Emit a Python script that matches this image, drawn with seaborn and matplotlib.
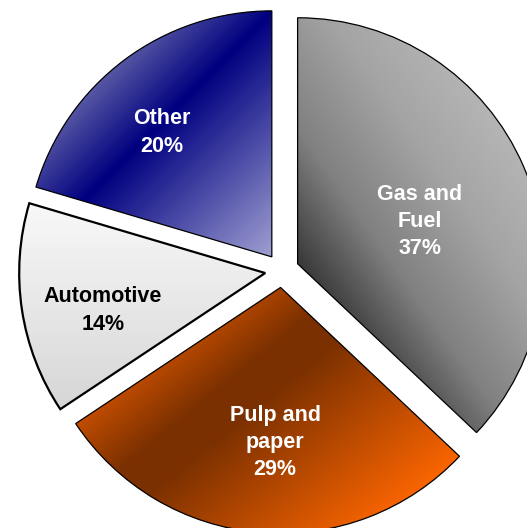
import numpy as np
import matplotlib
matplotlib.use("Agg")
import matplotlib.pyplot as plt
from matplotlib.colors import LinearSegmentedColormap
import seaborn as sns

# data
sectors = ["Gas and\nFuel", "Pulp and\npaper", "Automotive", "Other"]
shares = [37.0, 28.6, 13.9, 20.4]

# styling: gradient per slice (start px, end px, y down, colour stops), label colour
grads = [
    ((298, 265), (511, 115), [(0, "#383838"), (0.3, "#808080"), (0.65, "#a4a4a4"), (1, "#b8b8b8")]),
    ((77, 423), (245, 630), [(0, "#c04c00"), (0.24, "#7a3000"), (0.37, "#7a3000"), (1, "#f86400")]),
    ((0, 205), (0, 410), [(0, "#f8f8f8"), (1, "#d6d6d6")]),
    ((78, 78), (262, 262), [(0, "#6c6cac"), (0.346, "#000080"), (1, "#9c9cd0")]),
]
label_colors = ["white", "white", "black", "white"]
label_pos = [(420, 221.5), (275, 442.5), (103, 310.5), (162, 132.5)]
edge_widths = [0.9, 0.9, 1.6, 0.9]

W, H = 527, 528
sns.set_theme(style="white")
plt.rcParams["font.family"] = ["Liberation Sans", "DejaVu Sans"]

fig = plt.figure(figsize=(W / 100, H / 100), dpi=100)
ax = fig.add_axes([0, 0, 1, 1])

wedges, _ = ax.pie(shares, center=(282, H - 270.5), radius=246, explode=[17] * 4,
                   startangle=90, counterclock=False,
                   wedgeprops=dict(facecolor="none", edgecolor="black"))

yy, xx = np.mgrid[0:H, 0:W] + 0.5
for w, (p0, p1, stops), lw in zip(wedges, grads, edge_widths):
    w.set_linewidth(lw)
    w.set_zorder(3)
    dx, dy = p1[0] - p0[0], p1[1] - p0[1]
    t = ((xx - p0[0]) * dx + (yy - p0[1]) * dy) / (dx * dx + dy * dy)
    cmap = LinearSegmentedColormap.from_list("g", stops)
    img = cmap(np.clip(t, 0, 1))
    im = ax.imshow(img, extent=(0, W, 0, H), origin="upper", zorder=2, interpolation="bilinear")
    im.set_clip_path(w)

for s, v, c, (x, y) in zip(sectors, shares, label_colors, label_pos):
    ax.text(x, H - y, f"{s}\n{round(v)}%", ha="center", va="center", color=c,
            fontsize=15.5, fontweight="bold", linespacing=1.39, zorder=4)

ax.set_xlim(0, W)
ax.set_ylim(0, H)
ax.set_aspect("equal")
ax.axis("off")
fig.savefig("out.png", dpi=100)
